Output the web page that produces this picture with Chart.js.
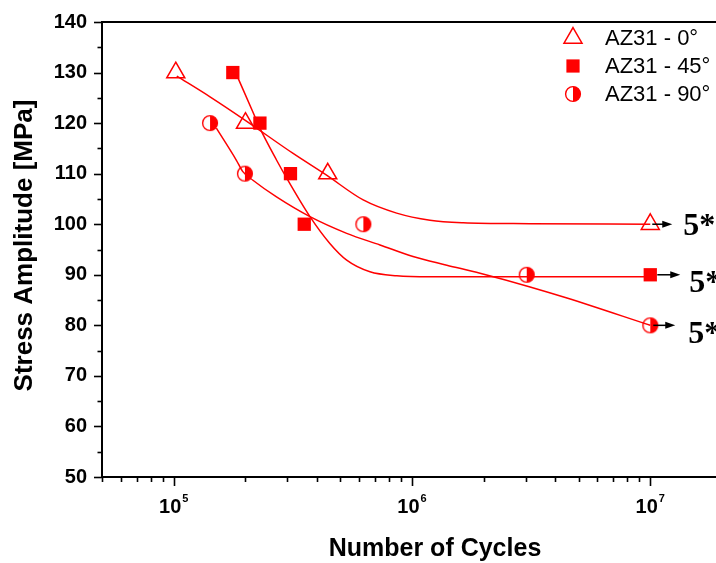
<!DOCTYPE html>
<html>
<head>
<meta charset="utf-8">
<script src="https://cdn.jsdelivr.net/npm/chart.js@4.4.1/dist/chart.umd.min.js"></script>
<style>
  html, body { margin: 0; padding: 0; background: #fff; overflow: hidden; }
  #wrap { width: 716px; height: 563px; overflow: hidden; position: relative; }
  #c { display: block; }
</style>
</head>
<body>
<div id="wrap"><canvas id="c" width="740" height="563"></canvas></div>
<script>
// ---- data ----
const seriesNames = ['AZ31 - 0°', 'AZ31 - 45°', 'AZ31 - 90°'];

const az0N  = [1.02e5, 2.0e5, 4.43e5, 1e7];
const az0S  = [130, 120, 110, 100];
const az45N = [1.77e5, 2.3e5, 3.09e5, 3.53e5, 1e7];
const az45S = [130, 120, 110, 100, 90];
const az90N = [1.42e5, 1.99e5, 6.25e5, 3.03e6, 1e7];
const az90S = [120, 110, 100, 90, 80];

// fitted curves
const fit0N  = [1.03e5, 1.42e5, 1.99e5, 3.17e5, 4.38e5, 6.24e5, 8.62e5, 1.19e6, 1.64e6, 3.13e6, 1e7];
const fit0S  = [129.3, 125.2, 120.6, 114.0, 109.7, 104.8, 102.2, 100.8, 100.3, 100.1, 100.0];
const fit45N = [1.85e5, 2.19e5, 2.30e5, 2.70e5, 2.98e5, 3.73e5, 4.52e5, 5.32e5, 6.66e5, 8.63e5, 1.19e6, 2.65e6, 1e7];
const fit45S = [129.2, 121.3, 119.0, 112.7, 109.1, 101.5, 96.2, 92.9, 90.6, 89.8, 89.6, 89.6, 89.6];
const fit90N = [1.51e5, 1.83e5, 1.95e5, 2.15e5, 2.70e5, 3.73e5, 5.32e5, 7.34e5, 1.01e6, 1.40e6, 1.93e6, 3.13e6, 4.47e6, 1e7];
const fit90S = [119.0, 112.7, 110.4, 108.7, 105.4, 101.5, 98.2, 95.9, 93.6, 91.9, 90.3, 87.6, 85.4, 80.0];

// run-out annotations
const runoutN = [1e7, 1e7, 1e7];
const runoutS = [100, 90, 80];
const runoutLabels = ['5*', '5*', '5*'];

// axes
const xMin = 5e4, xMax = 2e7;
const yMin = 50, yMax = 140, yStep = 10;
const xLabelValues = [1e5, 1e6, 1e7];
const xTitle = 'Number of Cycles';
const yTitle = 'Stress Amplitude [MPa]';

// ---- styling ----
const RED = '#ff0000';
const SANS = '"Liberation Sans", Arial, Helvetica, sans-serif';
const SERIF = '"Liberation Serif", "Times New Roman", serif';

function zip(a, b) { return a.map((v, i) => ({ x: v, y: b[i] })); }

const halfCircle = (() => {
  const r = 7.4, s = 18, c = document.createElement('canvas');
  c.width = s; c.height = s;
  const g = c.getContext('2d');
  g.beginPath(); g.arc(s/2, s/2, r, -Math.PI/2, Math.PI/2); g.closePath();
  g.fillStyle = RED; g.fill();
  g.beginPath(); g.arc(s/2, s/2, r, 0, Math.PI*2);
  g.strokeStyle = RED; g.lineWidth = 1.4; g.stroke();
  return c;
})();

const lineDs = (N, S) => ({
  data: zip(N, S), showLine: true, borderColor: RED, borderWidth: 1.5,
  pointRadius: 0, fill: false, tension: 0.4, cubicInterpolationMode: 'monotone', order: 2
});

const datasets = [
  lineDs(fit0N, fit0S),
  lineDs(fit45N, fit45S),
  lineDs(fit90N, fit90S),
  { label: seriesNames[0], data: zip(az0N, az0S), showLine: false, pointStyle: 'triangle',
    pointRadius: 10.4, borderColor: RED, borderWidth: 1.5, backgroundColor: 'rgba(0,0,0,0)', order: 1 },
  { label: seriesNames[1], data: zip(az45N, az45S), showLine: false, pointStyle: 'rect',
    pointRadius: 9.4, borderColor: RED, borderWidth: 0, backgroundColor: RED, order: 1 },
  { label: seriesNames[2], data: zip(az90N, az90S), showLine: false, pointStyle: halfCircle,
    pointRadius: 9, borderColor: RED, backgroundColor: RED, order: 1 }
];

function seg(ctx, x1, y1, x2, y2) { ctx.beginPath(); ctx.moveTo(x1, y1); ctx.lineTo(x2, y2); ctx.stroke(); }

const deco = {
  id: 'deco',
  afterDraw(chart) {
    const { ctx, chartArea: a, scales: { x, y } } = chart;
    ctx.save();
    ctx.strokeStyle = '#000'; ctx.fillStyle = '#000';
    // top frame line
    ctx.lineWidth = 2;
    seg(ctx, a.left - 1, a.top, a.right, a.top);
    // y tick marks
    ctx.lineWidth = 1.6;
    for (let v = yMin; v <= yMax; v += yStep / 2) {
      const p = Math.round(y.getPixelForValue(v)) + 0.5;
      const L = (v % yStep === 0) ? 8 : 4.5;
      seg(ctx, a.left - L, p, a.left, p);
    }
    // x tick marks
    for (let e = 4; e <= 7; e++) {
      for (let m = 1; m <= 9; m++) {
        const v = m * Math.pow(10, e);
        if (v < xMin || v > xMax) continue;
        const p = Math.round(x.getPixelForValue(v)) + 0.5;
        const L = m === 1 ? 9 : 5;
        seg(ctx, p, a.bottom, p, a.bottom + L);
      }
    }
    // x tick labels 10^n
    xLabelValues.forEach(v => {
      const p = x.getPixelForValue(v);
      const exp = String(Math.round(Math.log10(v)));
      ctx.font = 'bold 20px ' + SANS;
      const w1 = ctx.measureText('10').width;
      ctx.font = 'bold 11px ' + SANS;
      const w2 = ctx.measureText(exp).width;
      const left = p - (w1 + 1 + w2) / 2;
      ctx.textAlign = 'left'; ctx.textBaseline = 'alphabetic';
      ctx.font = 'bold 20px ' + SANS;
      ctx.fillText('10', left, 513);
      ctx.font = 'bold 11px ' + SANS;
      ctx.fillText(exp, left + w1 + 1, 502);
    });
    // axis titles
    ctx.font = 'bold 25px ' + SANS;
    ctx.textAlign = 'center'; ctx.textBaseline = 'alphabetic';
    ctx.fillText(xTitle, 435, 556);
    ctx.save();
    ctx.translate(32, 245.5); ctx.rotate(-Math.PI / 2);
    ctx.font = 'bold 26px ' + SANS;
    ctx.fillText(yTitle, 0, 0);
    ctx.restore();

    // legend
    const rows = [38, 66, 94], mx = 573, tx = 605;
    ctx.font = '22px ' + SANS; ctx.textAlign = 'left'; ctx.textBaseline = 'middle';
    rows.forEach((ry, i) => {
      ctx.fillStyle = '#000';
      ctx.fillText(seriesNames[i], tx, ry + 1);
      ctx.fillStyle = RED; ctx.strokeStyle = RED;
      if (i === 0) {
        const r = 10.4;
        ctx.lineWidth = 1.5;
        ctx.beginPath();
        ctx.moveTo(mx, ry - r);
        ctx.lineTo(mx + r * Math.sin(2 * Math.PI / 3), ry + r / 2);
        ctx.lineTo(mx - r * Math.sin(2 * Math.PI / 3), ry + r / 2);
        ctx.closePath(); ctx.stroke();
      } else if (i === 1) {
        ctx.fillRect(mx - 6.6, ry - 6.6, 13.2, 13.2);
      } else {
        ctx.drawImage(halfCircle, mx - halfCircle.width / 2, ry - halfCircle.height / 2);
      }
    });

    // run-out arrows and labels
    const arrowStart = [2, 7, 3], arrowEnd = [22, 30, 25], textOff = [33, 39, 38], textDy = [11, 17, 18];
    ctx.strokeStyle = '#000'; ctx.fillStyle = '#000'; ctx.lineWidth = 1.5;
    runoutN.forEach((n, i) => {
      const px = x.getPixelForValue(n), py = y.getPixelForValue(runoutS[i]);
      const x1 = px + arrowStart[i], x2 = px + arrowEnd[i];
      seg(ctx, x1, py, x2 - 6, py);
      ctx.beginPath();
      ctx.moveTo(x2, py); ctx.lineTo(x2 - 10, py - 3.5); ctx.lineTo(x2 - 10, py + 3.5);
      ctx.closePath(); ctx.fill();
      ctx.font = 'bold 32px ' + SERIF; ctx.textAlign = 'left'; ctx.textBaseline = 'alphabetic';
      ctx.fillText(runoutLabels[i], px + textOff[i], py + textDy[i]);
    });
    ctx.restore();
  }
};

new Chart(document.getElementById('c'), {
  type: 'scatter',
  data: { datasets },
  options: {
    responsive: false, animation: false, events: [],
    layout: { padding: { top: 22, right: 18, left: 0, bottom: 0 } },
    plugins: { legend: { display: false }, tooltip: { enabled: false } },
    scales: {
      x: {
        type: 'logarithmic', min: xMin, max: xMax,
        grid: { display: false, drawTicks: false },
        border: { display: true, color: '#000', width: 2 },
        ticks: { display: false },
        afterFit(s) { s.height = 86; s.paddingLeft = 0; s.paddingRight = 0; }
      },
      y: {
        type: 'linear', min: yMin, max: yMax,
        grid: { display: false, drawTicks: false },
        border: { display: true, color: '#000', width: 2 },
        ticks: { stepSize: yStep, color: '#000', padding: 15, font: { family: SANS, size: 20, weight: 'bold' } },
        afterFit(s) { s.width = 102; s.paddingTop = 0; s.paddingBottom = 0; }
      }
    }
  },
  plugins: [deco]
});
</script>
</body>
</html>
